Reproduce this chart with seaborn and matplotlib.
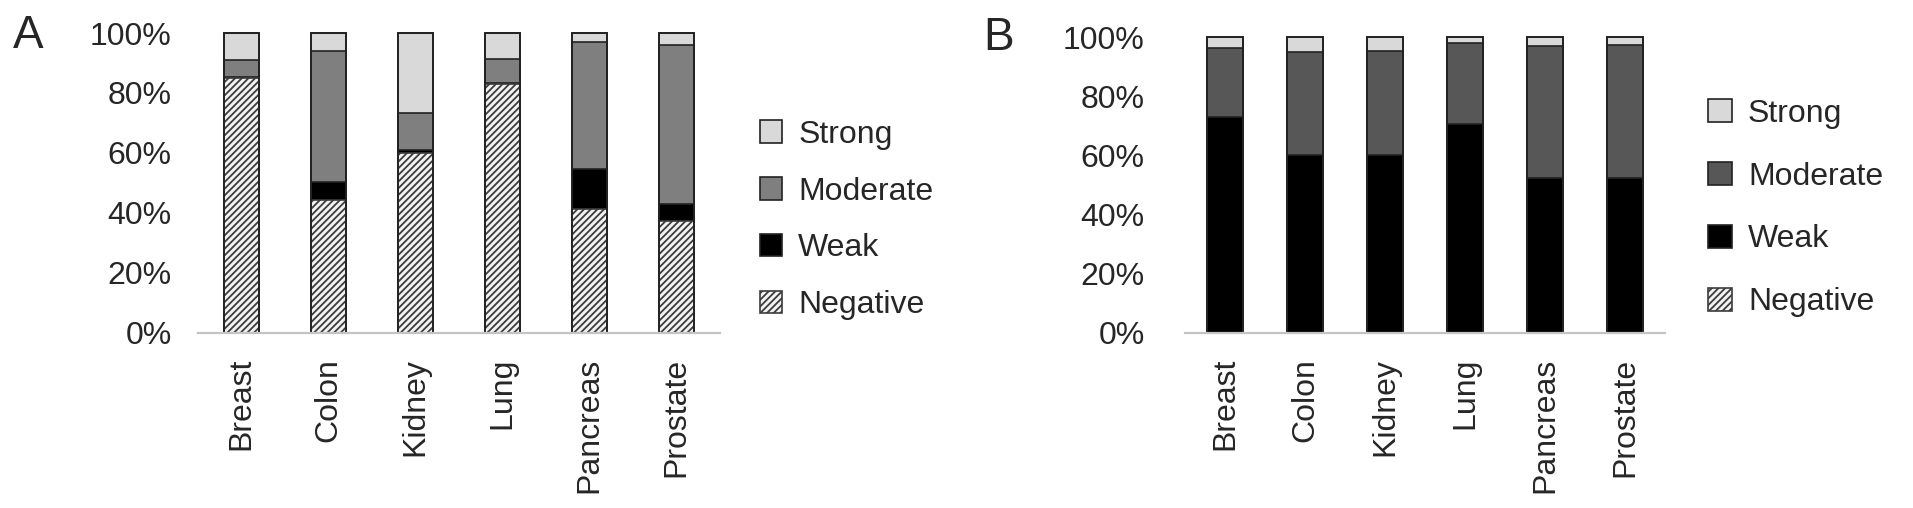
import matplotlib.pyplot as plt
import seaborn as sns
import numpy as np
import pandas as pd
from matplotlib.patches import Patch
from matplotlib.ticker import PercentFormatter

tissues = ["Breast", "Colon", "Kidney", "Lung", "Pancreas", "Prostate"]

# panel A (percent of cases)
neg_a = [85.0, 44.3, 59.9, 83.0, 41.4, 37.4]
weak_a = [0.5, 6.1, 1.1, 0.5, 13.2, 5.6]
mod_a = [5.6, 43.5, 12.3, 7.9, 42.3, 53.1]
strong_a = [8.9, 6.1, 26.7, 8.6, 3.1, 3.9]

# panel B
neg_b = [0, 0, 0, 0, 0, 0]
weak_b = [73.0, 60.0, 60.0, 70.7, 52.4, 52.4]
mod_b = [23.3, 34.9, 35.3, 27.3, 44.6, 45.0]
strong_b = [3.7, 5.1, 4.7, 2.0, 3.0, 2.6]

levels = ["Strong", "Moderate", "Weak", "Negative"]

sns.set_style("white")
plt.rcParams["font.family"] = ["Liberation Sans", "DejaVu Sans"]
plt.rcParams["hatch.linewidth"] = 1.3


def draw_panel(ax, neg, weak, mod, strong, mod_color, width):
    df = pd.DataFrame({"tissue": tissues, "Negative": neg, "Weak": weak,
                       "Moderate": mod, "Strong": strong})
    # cumulative tops, drawn from tallest to shortest so they stack
    df["c_neg"] = df["Negative"]
    df["c_weak"] = df["c_neg"] + df["Weak"]
    df["c_mod"] = df["c_weak"] + df["Moderate"]
    df["c_strong"] = df["c_mod"] + df["Strong"]

    styles = [
        ("c_strong", dict(color="#d9d9d9", edgecolor="#222222")),
        ("c_mod", dict(color=mod_color, edgecolor="#222222")),
        ("c_weak", dict(color="black", edgecolor="#222222")),
        ("c_neg", dict(color="#f2f2f2", edgecolor="#3c3c3c", hatch="/////")),
    ]
    for col, st in styles:
        sns.barplot(data=df, x="tissue", y=col, order=tissues, ax=ax,
                    width=width, linewidth=1.2, saturation=1, errorbar=None,
                    **st)
    # outline again over the hatch
    sns.barplot(data=df, x="tissue", y="c_strong", order=tissues, ax=ax,
                width=width, linewidth=1.3, fill=False, color="#222222",
                errorbar=None)
    for p in ax.patches:
        p.set_clip_on(False)

    ax.set_ylim(0, 100)
    ax.set_xlim(-0.5, 5.5)
    ax.set_yticks([0, 20, 40, 60, 80, 100])
    ax.yaxis.set_major_formatter(PercentFormatter(decimals=0))
    ax.set_xlabel("")
    ax.set_ylabel("")
    for s in ["left", "right", "top"]:
        ax.spines[s].set_visible(False)
    ax.spines["bottom"].set_color("#c4c4c4")
    ax.spines["bottom"].set_linewidth(1.6)
    ax.tick_params(axis="x", length=0, pad=18, labelsize=23, rotation=90)
    ax.tick_params(axis="y", length=0, labelsize=23)

    handles = [
        Patch(facecolor="#d9d9d9", edgecolor="#222222", lw=1.2),
        Patch(facecolor=mod_color, edgecolor="#222222", lw=1.2),
        Patch(facecolor="black", edgecolor="#222222", lw=1.2),
        Patch(facecolor="#f2f2f2", edgecolor="#3c3c3c", hatch="/////", lw=1.2),
    ]
    return handles


fig = plt.figure(figsize=(19.13, 5.08), dpi=100)
ax_a = fig.add_axes([198 / 1913, 175 / 508, 522 / 1913, 300 / 508])
ax_b = fig.add_axes([1185 / 1913, 175 / 508, 480 / 1913, 296 / 508])

h_a = draw_panel(ax_a, neg_a, weak_a, mod_a, strong_a, "#7f7f7f", 0.41)
h_b = draw_panel(ax_b, neg_b, weak_b, mod_b, strong_b, "#575757", 0.44)
ax_a.tick_params(axis="y", pad=19)
ax_b.tick_params(axis="y", pad=29)

ax_a.legend(h_a, levels, loc="center left", frameon=False,
            bbox_to_anchor=(760 / 1913, 1 - 220 / 508),
            bbox_transform=fig.transFigure, borderpad=0, borderaxespad=0,
            fontsize=23, handlelength=0.7, handleheight=0.7,
            handletextpad=0.5, labelspacing=0.84)
ax_b.legend(h_b, levels, loc="center left", frameon=False,
            bbox_to_anchor=(1708 / 1913, 1 - 208 / 508),
            bbox_transform=fig.transFigure, borderpad=0, borderaxespad=0,
            fontsize=23, handlelength=0.75, handleheight=0.75,
            handletextpad=0.5, labelspacing=1.03)

fig.text(13 / 1913, 1 - 14 / 508, "A", fontsize=33, va="top", ha="left")
fig.text(983 / 1913, 1 - 16 / 508, "B", fontsize=33, va="top", ha="left")

fig.savefig("out.png", dpi=100)
